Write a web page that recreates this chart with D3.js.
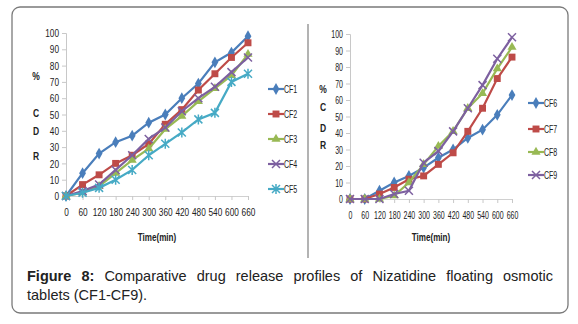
<!DOCTYPE html>
<html>
<head>
<meta charset="utf-8">
<script src="https://cdn.jsdelivr.net/npm/d3@7"></script>
<style>
  body { margin: 0; background: #fff; }
  #wrap { position: relative; width: 578px; height: 324px; }
  .caption {
    position: absolute; left: 27px; top: 267px; width: 526px;
    font-family: "Liberation Sans", Arial, sans-serif; font-size: 14.5px;
    line-height: 19px; color: #222;
  }
  .caption .l1 { text-align: justify; text-align-last: justify; }
</style>
</head>
<body>
<div id="wrap"></div>
<script>
// time points (min)
const times = [0, 60, 120, 180, 240, 300, 360, 420, 480, 540, 600, 660];
const xTicks = times;
const yTicks = [0, 10, 20, 30, 40, 50, 60, 70, 80, 90, 100];

// % CDR, left panel
const cf1 = [0, 14, 26, 33, 37, 45, 50, 60, 69, 82, 88, 98];
const cf2 = [0, 7, 13, 20, 25, 32, 44, 53, 65, 75, 85, 94];
const cf3 = [0, 2, 6, 14, 22, 29, 41, 49, 58, 66, 74, 87];
const cf4 = [0, 3, 7, 16, 25, 35, 42, 52, 60, 67, 76, 85];
const cf5 = [0, 2, 5, 10, 16, 25, 32, 39, 47, 51, 70, 75];

// % CDR, right panel
const cf6 = [0, 0, 5, 10, 14, 19, 25, 30, 37, 42, 51, 63];
const cf7 = [0, 0, 3, 7, 12, 14, 21, 28, 41, 55, 73, 86];
const cf8 = [0, 0, 0, 2, 10, 21, 32, 41, 55, 64, 79, 92];
const cf9 = [0, 0, 0, 3, 5, 22, 29, 41, 55, 69, 85, 98];

const leftNames = ["CF1", "CF2", "CF3", "CF4", "CF5"];
const rightNames = ["CF6", "CF7", "CF8", "CF9"];

const svg = d3.select("#wrap").append("svg")
    .attr("width", 578).attr("height", 324);

// frame + divider
svg.append("rect")
    .attr("x", 12).attr("y", 7).attr("width", 556).attr("height", 306)
    .attr("rx", 8).attr("fill", "none").attr("stroke", "#7a7a7a").attr("stroke-width", 1.3);
svg.append("line")
    .attr("x1", 308).attr("x2", 308).attr("y1", 24).attr("y2", 258)
    .attr("stroke", "#9a9a9a").attr("stroke-width", 1.5);

const tickFont = '"Liberation Sans", Arial, sans-serif';

// squeeze text horizontally (the original uses a narrow font)
function narrow(sel, sx) {
    sel.each(function () {
        const t = d3.select(this);
        const x0 = +t.attr("x") || 0;
        const y0 = +t.attr("y") || 0;
        t.attr("x", 0).attr("y", 0)
            .attr("transform", `translate(${x0},${y0}) scale(${sx},1)`);
    });
}

// marker shapes
function marker(g, kind, color) {
    if (kind === "diamond") {
        g.append("path").attr("d", d3.symbol(d3.symbolDiamond, 40)()).attr("fill", color);
    } else if (kind === "square") {
        g.append("path").attr("d", d3.symbol(d3.symbolSquare, 48)()).attr("fill", color);
    } else if (kind === "triangle") {
        g.append("path").attr("d", d3.symbol(d3.symbolTriangle, 36)()).attr("fill", color);
    } else if (kind === "x") {
        g.append("path").attr("d", "M-4,-4L4,4M-4,4L4,-4")
            .attr("stroke", color).attr("stroke-width", 1.5).attr("fill", "none");
    } else if (kind === "star") {
        g.append("path").attr("d", "M-4,-4L4,4M-4,4L4,-4M0,-5L0,5")
            .attr("stroke", color).attr("stroke-width", 1.5).attr("fill", "none");
    }
}

function panel(cfg) {
    const x = d3.scaleLinear().domain([0, 660]).range(cfg.xr);
    const y = d3.scaleLinear().domain([0, 100]).range(cfg.yr);
    const g = svg.append("g");

    // y axis
    const ya = g.append("g").attr("transform", `translate(${cfg.xr[0]},0)`)
        .call(d3.axisLeft(y).tickValues(yTicks).tickSize(4).tickPadding(3));
    ya.select(".domain").attr("stroke", "#c8c8c8");
    ya.selectAll(".tick line").attr("stroke", "#c8c8c8");
    ya.selectAll("text").attr("font-family", tickFont).attr("font-size", 11.5).attr("fill", "#222")
        .call(narrow, cfg.sx);

    // x axis
    const xa = g.append("g").attr("transform", `translate(0,${cfg.yr[0]})`)
        .call(d3.axisBottom(x).tickValues(xTicks).tickSize(4).tickPadding(cfg.xpad));
    xa.select(".domain").attr("stroke", "#d0d0d0");
    xa.selectAll(".tick line").attr("stroke", "#c8c8c8");
    xa.selectAll("text").attr("font-family", tickFont).attr("font-size", 11.5).attr("fill", "#222")
        .call(narrow, cfg.sx);

    g.append("text")
        .attr("x", (cfg.xr[0] + cfg.xr[1]) / 2).attr("y", 241)
        .attr("text-anchor", "middle")
        .attr("font-family", tickFont).attr("font-weight", "bold").attr("font-size", 10.5)
        .attr("fill", "#222").text("Time(min)")
        .call(narrow, 0.77);

    // % C D R
    cfg.ylab.forEach(([t, yy]) => {
        g.append("text").attr("x", cfg.ylx).attr("y", yy).attr("text-anchor", "middle")
            .attr("font-family", tickFont).attr("font-weight", "bold").attr("font-size", 10)
            .attr("fill", "#222").text(t)
            .call(narrow, 0.85);
    });

    const line = d3.line().x((d, i) => x(times[i])).y(d => y(d));

    cfg.series.forEach((s, k) => {
        g.append("path").datum(s.values)
            .attr("fill", "none").attr("stroke", s.color).attr("stroke-width", 2.2)
            .attr("d", line);
        s.values.forEach((v, i) => {
            marker(g.append("g").attr("transform", `translate(${x(times[i])},${y(v)})`), s.kind, s.color);
        });

        // legend
        const ly = cfg.legY[k];
        const lg = g.append("g");
        lg.append("line").attr("x1", cfg.legX).attr("x2", cfg.legX + 16)
            .attr("y1", ly).attr("y2", ly).attr("stroke", s.color).attr("stroke-width", 2.2);
        marker(lg.append("g").attr("transform", `translate(${cfg.legX + 8},${ly})`), s.kind, s.color);
        lg.append("text").attr("x", cfg.legX + 16).attr("y", ly + 4)
            .attr("font-family", tickFont).attr("font-size", 11).attr("fill", "#222")
            .text(s.name)
            .call(narrow, 0.64);
    });
}

const colors = ["#4a7ebb", "#be4b48", "#98b954", "#7d60a0", "#46aac5"];
const kinds = ["diamond", "square", "triangle", "x", "star"];

panel({
    xr: [66, 248], yr: [196, 33], xpad: 8, ylx: 36, sx: 0.72,
    ylab: [["%", 80], ["C", 117], ["D", 135], ["R", 160]],
    legX: 268, legY: [89, 114, 139, 164, 189],
    series: [cf1, cf2, cf3, cf4, cf5].map((v, i) =>
        ({ name: leftNames[i], values: v, color: colors[i], kind: kinds[i] }))
});

panel({
    xr: [350, 512], yr: [199, 34], xpad: 8, ylx: 323, sx: 0.61,
    ylab: [["%", 93], ["C", 111], ["D", 132], ["R", 149]],
    legX: 528, legY: [103, 129, 152, 175],
    series: [cf6, cf7, cf8, cf9].map((v, i) =>
        ({ name: rightNames[i], values: v, color: colors[i], kind: kinds[i] }))
});

const cap = d3.select("#wrap").append("div").attr("class", "caption");
cap.append("div").attr("class", "l1")
    .html('<b>Figure 8:</b> Comparative drug release profiles of Nizatidine floating osmotic');
cap.append("div").text("tablets (CF1-CF9).");
</script>
</body>
</html>
